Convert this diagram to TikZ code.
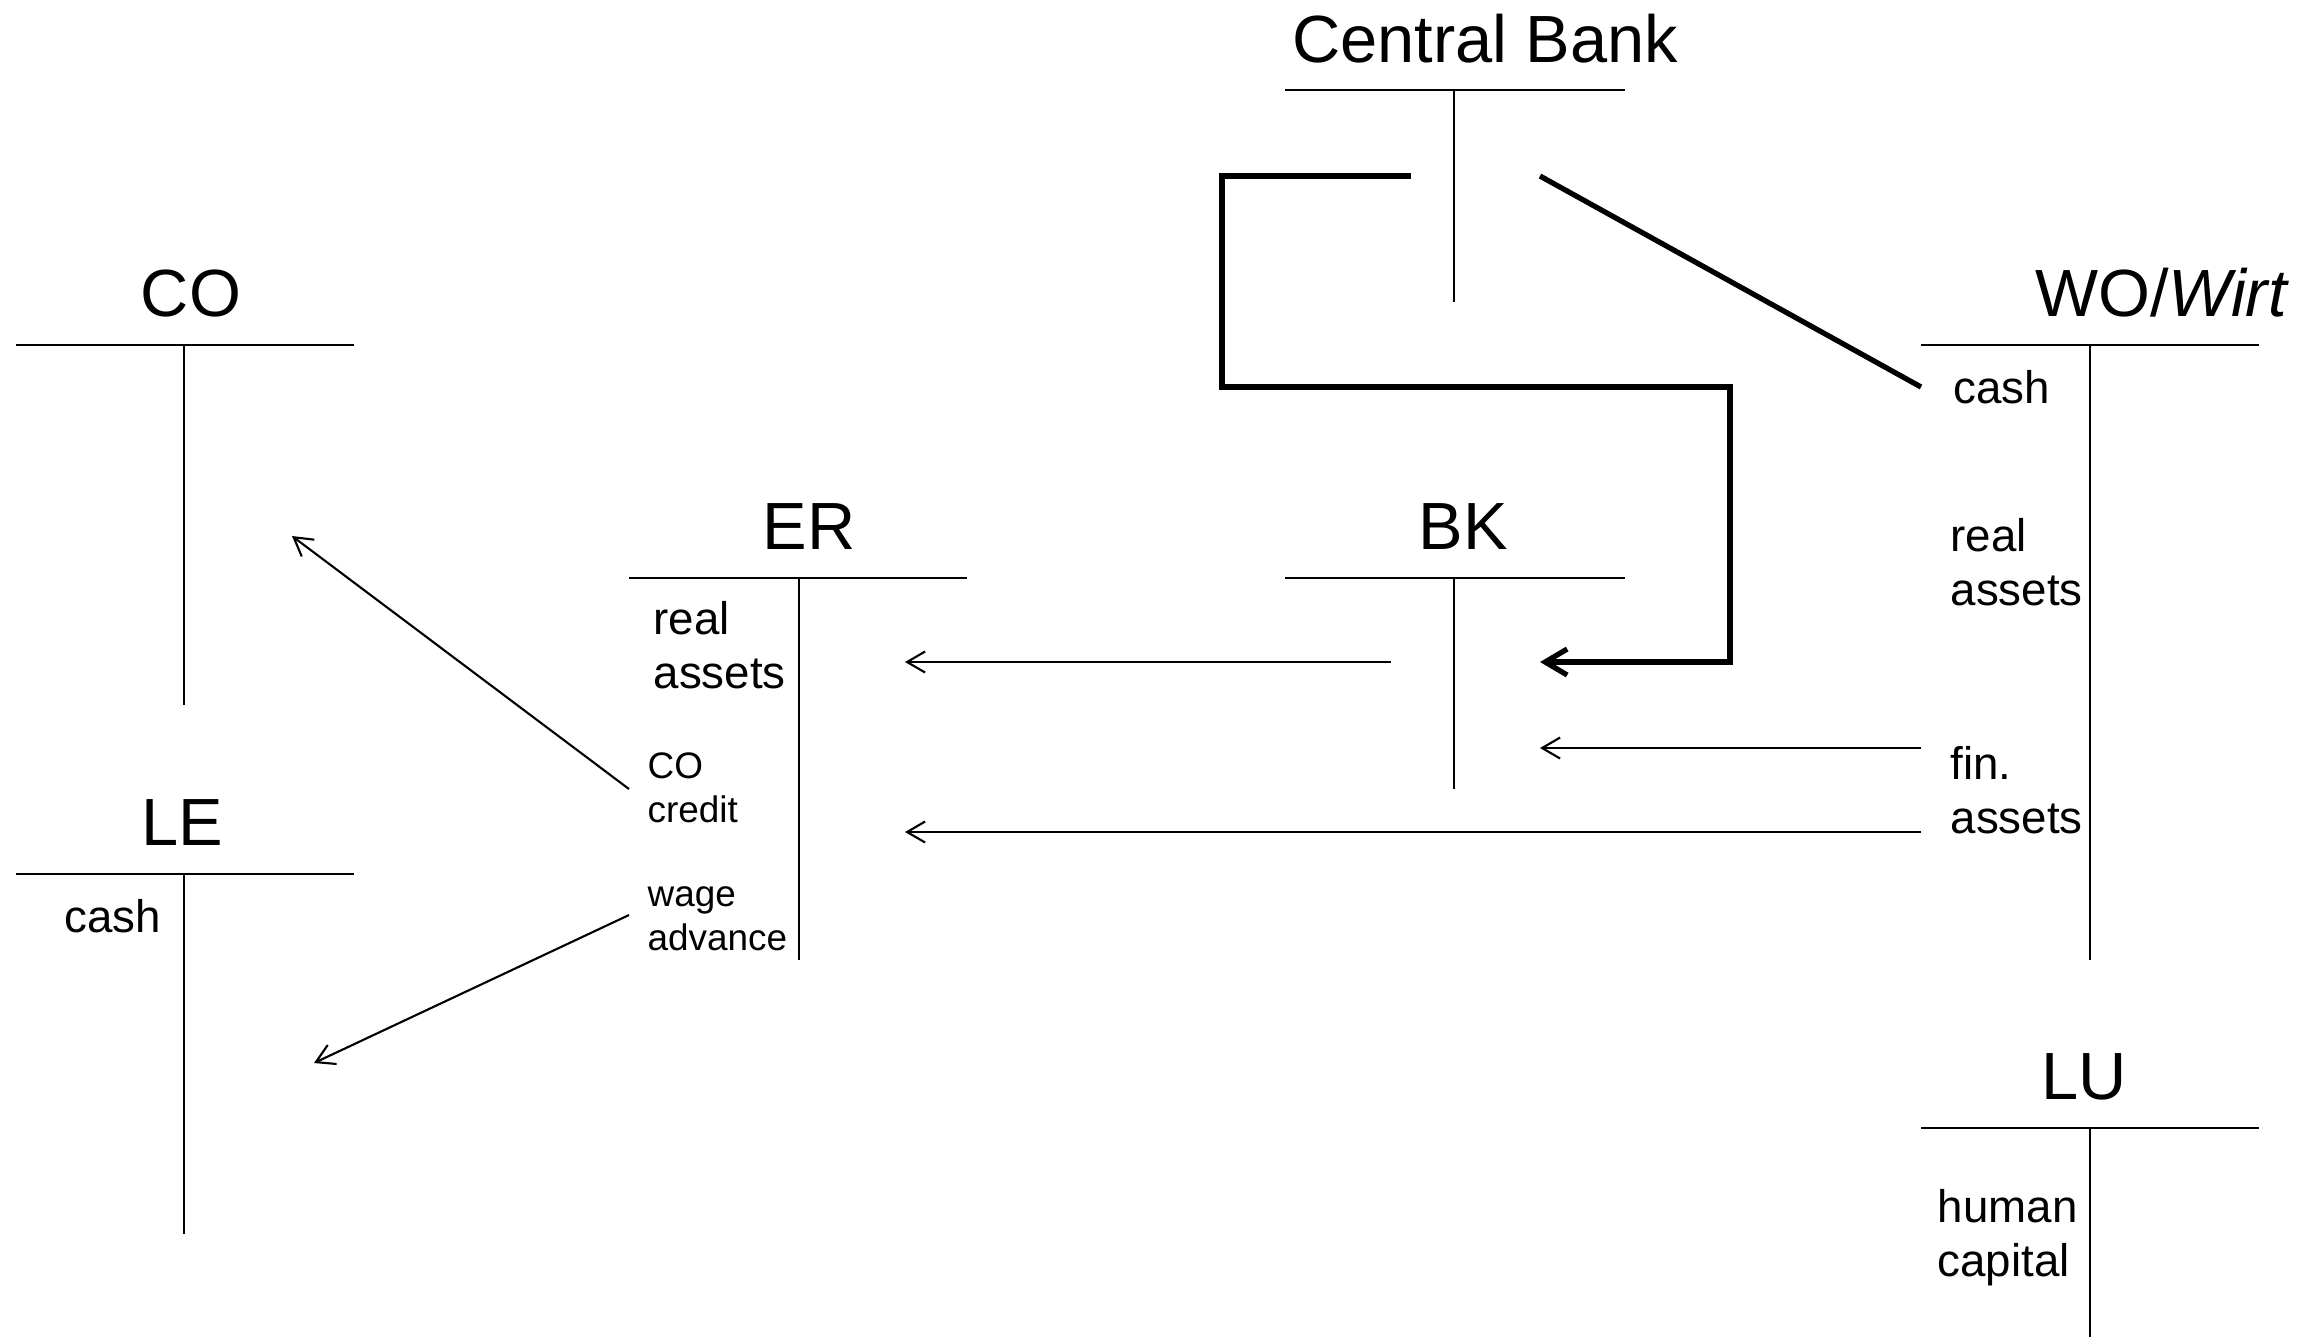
\documentclass[tikz,border=0pt]{standalone}
\usepackage{fontspec}
\setmainfont{Liberation Sans}
\usetikzlibrary{arrows.meta}
\begin{document}
\begin{tikzpicture}[x=0.1mm,y=-0.1mm,
  title/.style={anchor=base, inner sep=0pt, font=\fontsize{19}{23}\selectfont},
  % multi-line entries are placed by the baseline of their last line
  entry/.style={anchor=base west, inner sep=0pt, align=left, font=\fontsize{13}{15.1}\selectfont},
  small entry/.style={anchor=base west, inner sep=0pt, align=left, font=\fontsize{10.5}{12.5}\selectfont},
  tline/.style={line width=0.6pt},
  flow/.style={line width=0.6pt, -{Straight Barb[length=1.8mm,width=2.1mm]}},
  heavy flow/.style={line width=1.5pt, -{Straight Barb[length=2.2mm,width=2.6mm]}},
  heavy line/.style={line width=1.5pt}]
\useasboundingbox (0,0) rectangle (2322,1337);

% --- T-accounts ---
% Central Bank
\node[title] (cbT) at (1485,62) {Central Bank};
\draw[tline] (1285,90) -- (1625,90) (1454,90) -- (1454,302);
% WO / Wirt
\node[title] (woT) at (2162,316) {WO/\textit{Wirt}};
\draw[tline] (1921,345) -- (2259,345) (2090,345) -- (2090,960);
% CO
\node[title] (coT) at (191,316) {CO};
\draw[tline] (16,345) -- (354,345) (184,345) -- (184,705);
% LE
\node[title] (leT) at (182,845) {LE};
\draw[tline] (16,874) -- (354,874) (184,874) -- (184,1234);
% ER
\node[title] (erT) at (809,549) {ER};
\draw[tline] (629,578) -- (967,578) (799,578) -- (799,960);
% BK
\node[title] (bkT) at (1463,549) {BK};
\draw[tline] (1285,578) -- (1625,578) (1454,578) -- (1454,789);
% LU
\node[title] (luT) at (2084,1099) {LU};
\draw[tline] (1921,1128) -- (2259,1128) (2090,1128) -- (2090,1337);

% --- account entries ---
\node[entry] (woCash) at (1953,403) {cash};
\node[entry] (woReal) at (1950,605) {real\\assets};
\node[entry] (woFin) at (1950,833) {fin.\\assets};
\node[entry] (erReal) at (653,688) {real\\assets};
\node[small entry] (erCO) at (647,822) {CO\\credit};
\node[small entry] (erWage) at (647,950) {wage\\advance};
\node[entry] (leCash) at (64,932) {cash};
\node[entry] (luHuman) at (1937,1276) {human\\capital};

% --- connector end points ---
\coordinate (cbOutL) at (1411,176);
\coordinate (cbOutR) at (1540,176);
\coordinate (woCashIn) at (1921,387);
\coordinate (bkInTop) at (1540,662);
\coordinate (bkOut) at (1391,662);
\coordinate (erInTop) at (905,662);
\coordinate (woFinOutA) at (1921,748);
\coordinate (bkInLow) at (1540,748);
\coordinate (woFinOutB) at (1921,832);
\coordinate (erInLow) at (905,832);
\coordinate (erCOout) at (629,789);
\coordinate (coIn) at (292,536);
\coordinate (erWageOut) at (629,915);
\coordinate (leIn) at (314,1063);

% --- flows ---
\draw[heavy flow] (cbOutL) -- (1222,176) -- (1222,387) -- (1730,387) -- (1730,662) -- (bkInTop);
\draw[heavy line] (cbOutR) -- (woCashIn);
\draw[flow] (bkOut) -- (erInTop);
\draw[flow] (woFinOutA) -- (bkInLow);
\draw[flow] (woFinOutB) -- (erInLow);
\draw[flow] (erCOout) -- (coIn);
\draw[flow] (erWageOut) -- (leIn);
\end{tikzpicture}
\end{document}
